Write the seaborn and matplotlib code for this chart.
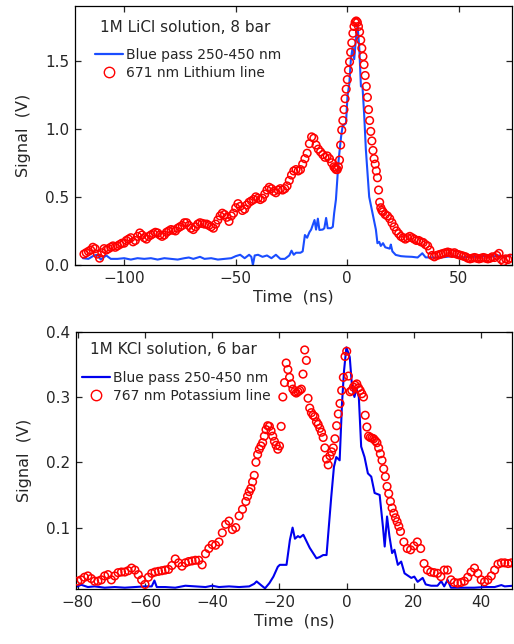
import numpy as np
import pandas as pd
import matplotlib
matplotlib.use("Agg")
import matplotlib.pyplot as plt
from matplotlib.lines import Line2D
import seaborn as sns

sns.set_style("ticks")
plt.rcParams.update({
    'font.family': ['DejaVu Sans'],
    'font.size': 11,
    'xtick.direction': 'in',
    'ytick.direction': 'in',
    'xtick.top': True,
    'ytick.right': True,
    'xtick.major.size': 4.5,
    'ytick.major.size': 4.5,
    'axes.linewidth': 0.9,
    'axes.edgecolor': 'black',
})

COLOR_BLUE_TOP = '#1a4dff'
COLOR_BLUE_BOT = '#0000ee'
COLOR_RED = '#ff0000'

# ---------------- Top panel: 1M LiCl, 8 bar ----------------
# red 671 nm Lithium line, sampled on three time blocks
li_t = np.concatenate([np.arange(-118, -5, 1.0), np.arange(-5.5, 16.25, 0.5), np.arange(17, 74, 1.0)])
li_v = [
    0.08, 0.09, 0.10, 0.11, 0.13, 0.12, 0.08, 0.05, 0.09, 0.12,
    0.11, 0.12, 0.13, 0.14, 0.13, 0.14, 0.15, 0.16, 0.16, 0.18,
    0.19, 0.20, 0.17, 0.18, 0.21, 0.235, 0.22, 0.20, 0.19, 0.21,
    0.22, 0.23, 0.24, 0.235, 0.22, 0.21, 0.22, 0.24, 0.25, 0.26,
    0.255, 0.25, 0.27, 0.28, 0.29, 0.31, 0.31, 0.29, 0.27, 0.26,
    0.28, 0.30, 0.31, 0.305, 0.30, 0.30, 0.29, 0.28, 0.27, 0.30,
    0.33, 0.36, 0.38, 0.37, 0.35, 0.32, 0.36, 0.38, 0.42, 0.45,
    0.43, 0.40, 0.41, 0.44, 0.46, 0.47, 0.48, 0.50, 0.49, 0.48,
    0.49, 0.52, 0.55, 0.57, 0.56, 0.54, 0.53, 0.55, 0.56, 0.55,
    0.56, 0.58, 0.62, 0.66, 0.69, 0.70, 0.69, 0.70, 0.74, 0.78,
    0.82, 0.89, 0.94, 0.93, 0.88, 0.85, 0.83, 0.81, 0.79, 0.80,
    0.78, 0.75, 0.72,
    # -5.5 .. 16 (0.5 ns)
    0.71, 0.70, 0.70, 0.72, 0.77, 0.88, 0.99, 1.06, 1.14, 1.22,
    1.29, 1.36, 1.43, 1.49, 1.56, 1.63, 1.70, 1.75, 1.78, 1.79,
    1.78, 1.75, 1.71, 1.65, 1.59, 1.53, 1.47, 1.39, 1.31, 1.23,
    1.14, 1.06, 0.98, 0.91, 0.84, 0.78, 0.74, 0.69, 0.64, 0.55,
    0.46, 0.42, 0.40, 0.39,
    # 17 .. 73
    0.37, 0.36, 0.34, 0.31, 0.28, 0.25, 0.23, 0.21, 0.20, 0.19,
    0.20, 0.21, 0.20, 0.19, 0.18, 0.18, 0.17, 0.165, 0.15, 0.14,
    0.11, 0.07, 0.06, 0.07, 0.075, 0.08, 0.085, 0.09, 0.095, 0.09,
    0.085, 0.09, 0.08, 0.075, 0.07, 0.065, 0.06, 0.05, 0.045, 0.05,
    0.055, 0.05, 0.045, 0.05, 0.055, 0.05, 0.045, 0.05, 0.06, 0.055,
    0.07, 0.085, 0.04, 0.025, 0.045, 0.04, 0.05,
]

# blue pass 250-450 nm (top)
blue_li_t = [-118.5, -116, -113.5, -112, -110.5, -108, -106, -103, -100, -97,
             -94, -91, -88, -85, -82, -79, -76, -73, -71, -69,
             -66, -64, -61, -58, -55, -52, -50, -48, -46, -44,
             -43, -42.3, -41.5, -40, -38, -36, -34, -32, -30, -28,
             -26, -25, -24, -23, -21, -20, -19, -18, -17, -16.2,
             -14.7, -14, -13.2, -12.5, -11, -10.3, -9.5, -8.8, -7.4, -6.5,
             -5.9, -5.1, -3.9, -2.8, -2.1, -0.6, 0.1, 0.9, 1.6, 2.4,
             3.1, 3.9, 4.6, 5.4, 6.1, 6.8, 7.6, 8.3, 9.8, 11.3,
             12.8, 13.5, 14.3, 15, 16, 17, 18, 19, 19.5, 20.2,
             21.7, 24, 26.2, 29, 31.5, 33.6, 35.1, 38, 42.5, 47,
             51.5, 55, 57.5, 61, 64, 67.9, 70, 73]
blue_li_v = [0.05, 0.045, 0.07, 0.075, 0.04, 0.07, 0.045, 0.045, 0.05, 0.04,
             0.05, 0.045, 0.05, 0.04, 0.05, 0.045, 0.04, 0.05, 0.055, 0.045,
             0.06, 0.045, 0.05, 0.04, 0.045, 0.05, 0.065, 0.075, 0.05, 0.075,
             0.06, 0.0, 0.07, 0.075, 0.06, 0.07, 0.05, 0.075, 0.045, 0.045,
             0.07, 0.105, 0.075, 0.09, 0.09, 0.10, 0.22, 0.20, 0.24, 0.26,
             0.33, 0.26, 0.34, 0.257, 0.26, 0.27, 0.345, 0.27, 0.27, 0.28,
             0.38, 0.48, 0.77, 0.94, 1.02, 1.04, 1.24, 1.33, 1.51, 1.60,
             1.51, 1.67, 1.76, 1.58, 1.31, 1.31, 1.09, 0.85, 0.50, 0.38,
             0.26, 0.16, 0.17, 0.14, 0.16, 0.13, 0.125, 0.12, 0.15, 0.10,
             0.074, 0.065, 0.062, 0.06, 0.055, 0.086, 0.056, 0.055, 0.056, 0.065,
             0.056, 0.06, 0.06, 0.065, 0.06, 0.07, 0.06, 0.07]

# ---------------- Bottom panel: 1M KCl, 6 bar ----------------
k_t = np.concatenate([np.arange(-80, -30, 1.0), np.arange(-30, 15.75, 0.5), np.arange(16, 50, 1.0)])
k_v = [
    0.018, 0.02, 0.024, 0.026, 0.022, 0.018, 0.018, 0.02, 0.026, 0.028,
    0.02, 0.026, 0.031, 0.032, 0.032, 0.034, 0.038, 0.035, 0.028, 0.02,
    0.013, 0.024, 0.03, 0.032, 0.033, 0.034, 0.035, 0.036, 0.042, 0.052,
    0.046, 0.041, 0.046, 0.048, 0.049, 0.05, 0.05, 0.043, 0.06, 0.068,
    0.074, 0.073, 0.078, 0.092, 0.105, 0.11, 0.097, 0.10, 0.118, 0.128,
    # -30 .. 15.5 (0.5 ns)
    0.14, 0.148, 0.155, 0.16, 0.17, 0.18, 0.20, 0.212, 0.22, 0.225,
    0.23, 0.24, 0.25, 0.256, 0.255, 0.248, 0.24, 0.232, 0.226, 0.22,
    0.225, 0.255, 0.30, 0.322, 0.352, 0.342, 0.33, 0.32, 0.312, 0.308,
    0.306, 0.308, 0.31, 0.312, 0.335, 0.372, 0.356, 0.298, 0.283, 0.276,
    0.272, 0.27, 0.262, 0.258, 0.252, 0.246, 0.238, 0.222, 0.205, 0.196,
    0.21, 0.216, 0.222, 0.236, 0.256, 0.274, 0.29, 0.31, 0.33, 0.362,
    0.37, 0.332, 0.308, 0.31, 0.315, 0.318, 0.32, 0.314, 0.31, 0.305,
    0.30, 0.272, 0.254, 0.24, 0.238, 0.237, 0.236, 0.233, 0.23, 0.222,
    0.213, 0.203, 0.19, 0.178, 0.163, 0.152, 0.14, 0.13, 0.122, 0.115,
    0.109, 0.102,
    # 16 .. 49
    0.094, 0.078, 0.068, 0.066, 0.072, 0.078, 0.068, 0.045, 0.035, 0.032,
    0.031, 0.03, 0.025, 0.035, 0.035, 0.02, 0.016, 0.015, 0.016, 0.018,
    0.024, 0.032, 0.038, 0.03, 0.02, 0.017, 0.02, 0.026, 0.035, 0.044,
    0.046, 0.046, 0.045, 0.046,
]

blue_k_t = [-80.5, -79, -77, -75, -72, -69, -66, -63, -60, -58,
            -57.2, -56.5, -54, -51, -48, -45, -42, -40, -38, -35,
            -32, -29, -27.5, -26.8, -25.5, -24.3, -23, -21.8, -20.5, -19.9,
            -17.9, -16.9, -16.1, -15.4, -14.5, -13.9, -12.9, -11, -9, -8,
            -7, -6, -5.5, -4.6, -3.8, -3.1, -2.1, -1.4, -0.8, -0.1,
            0.9, 1.6, 2.3, 2.9, 3.6, 4.3, 5.3, 6.3, 7.3, 8.3,
            9.8, 10.8, 11.3, 12, 12.7, 13.5, 14.2, 15.2, 16.2, 17.2,
            19.2, 20.1, 21.1, 22.6, 23.5, 25.1, 27, 28.1, 29, 30,
            31, 34, 38, 41, 44, 46, 47, 49.5]
blue_k_v = [0.009, 0.0125, 0.009, 0.01, 0.008, 0.009, 0.008, 0.009, 0.01, 0.01,
            0.019, 0.009, 0.009, 0.008, 0.011, 0.01, 0.009, 0.011, 0.009, 0.01,
            0.009, 0.01, 0.014, 0.0176, 0.012, 0.007, 0.015, 0.025, 0.04, 0.043,
            0.043, 0.081, 0.10, 0.083, 0.087, 0.085, 0.089, 0.069, 0.053, 0.055,
            0.058, 0.058, 0.09, 0.147, 0.193, 0.208, 0.203, 0.29, 0.34, 0.376,
            0.361, 0.315, 0.30, 0.313, 0.30, 0.224, 0.208, 0.183, 0.178, 0.153,
            0.15, 0.10, 0.071, 0.117, 0.087, 0.061, 0.066, 0.043, 0.048, 0.03,
            0.023, 0.025, 0.017, 0.023, 0.013, 0.011, 0.011, 0.018, 0.01, 0.02,
            0.008, 0.008, 0.008, 0.009, 0.009, 0.012, 0.01, 0.011]

li_df = pd.DataFrame({'t': li_t, 'v': li_v})
k_df = pd.DataFrame({'t': k_t, 'v': k_v})

fig = plt.figure(figsize=(5.14, 6.44), dpi=100)
ax1 = fig.add_axes([0.146, 0.5885, 0.851, 0.4022])
ax2 = fig.add_axes([0.148, 0.0854, 0.849, 0.3996])


def draw_panel(ax, blue_t, blue_v, blue_color, red_df, title, red_label, title_pos, leg_pos):
    sns.lineplot(x=blue_t, y=blue_v, ax=ax, color=blue_color, linewidth=1.5, sort=False, zorder=2)
    sns.scatterplot(data=red_df, x='t', y='v', ax=ax, marker='o', s=30,
                    facecolors='none', edgecolor=COLOR_RED, linewidth=1.1, zorder=3)
    ax.set_xlabel("Time  (ns)", fontsize=11.5, labelpad=3)
    ax.set_ylabel("Signal  (V)", fontsize=11.5, labelpad=10)
    ax.text(title_pos[0], title_pos[1], title, transform=ax.transAxes, fontsize=11, va='center', ha='left')
    handles = [
        Line2D([], [], color=blue_color, linewidth=1.6),
        Line2D([], [], color=COLOR_RED, marker='o', linestyle='', markersize=7.5,
               markerfacecolor='none', markeredgewidth=1.0),
    ]
    ax.legend(handles, ["Blue pass 250-450 nm", red_label], frameon=False, fontsize=10,
              loc='upper left', bbox_to_anchor=leg_pos, borderaxespad=0, borderpad=0,
              handlelength=2.0, handletextpad=0.2, labelspacing=0.3)


draw_panel(ax1, blue_li_t, blue_li_v, COLOR_BLUE_TOP, li_df, "1M LiCl solution, 8 bar",
           "671 nm Lithium line", (0.057, 0.918), (0.046, 0.838))
ax1.set_xlim(-122, 74)
ax1.set_ylim(0, 1.9)
ax1.set_xticks([-100, -50, 0, 50])
ax1.set_yticks([0.0, 0.5, 1.0, 1.5])
ax1.set_yticklabels(["0.0", "0.5", "1.0", "1.5"])

draw_panel(ax2, blue_k_t, blue_k_v, COLOR_BLUE_BOT, k_df, "1M KCl solution, 6 bar",
           "767 nm Potassium line", (0.032, 0.932), (0.014, 0.848))
ax2.set_xlim(-80.5, 49.3)
ax2.set_ylim(0.006, 0.4)
ax2.set_xticks([-80, -60, -40, -20, 0, 20, 40])
ax2.set_yticks([0.1, 0.2, 0.3, 0.4])
ax2.set_yticklabels(["0.1", "0.2", "0.3", "0.4"])

for ax in (ax1, ax2):
    ax.tick_params(labelsize=11, width=0.9, pad=4)
    for s in ax.spines.values():
        s.set_visible(True)

fig.savefig("out.png", dpi=100)
